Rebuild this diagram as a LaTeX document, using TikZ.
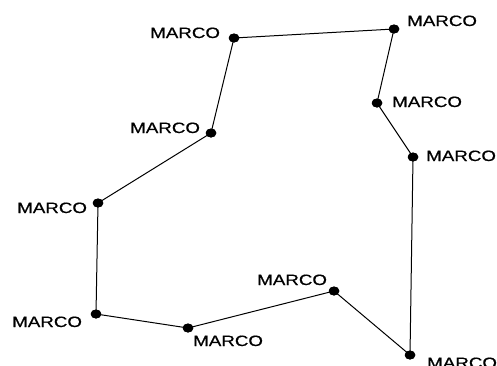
\documentclass[tikz,border=0pt]{standalone}
\usepackage{fontspec}
\newfontfamily\labfont[FakeStretch=1.25,FakeBold=0.6]{Liberation Sans}
\usetikzlibrary{shapes.geometric}
\tikzset{
  pt/.style={ellipse, fill=black, inner sep=0pt, minimum width=10.5pt, minimum height=9pt},
  lab/.style={anchor=base west, inner sep=0pt, font=\labfont\fontsize{15}{15}\selectfont},
  edge/.style={line width=1pt}
}
\begin{document}
\begin{tikzpicture}[x=1pt,y=-1pt]
\useasboundingbox (0,0) rectangle (497,365);
\node[pt] (p1) at (234,38) {};
\node[pt] (p2) at (394,29) {};
\node[pt] (p3) at (377,103) {};
\node[pt] (p4) at (413,157) {};
\node[pt] (p5) at (410,355) {};
\node[pt] (p6) at (334,291) {};
\node[pt] (p7) at (188,328) {};
\node[pt] (p8) at (96,314) {};
\node[pt] (p9) at (98,203) {};
\node[pt] (p10) at (211,133) {};
\draw[edge] (p1.center) -- (p2.center) -- (p3.center) -- (p4.center) -- (p5.center) -- (p6.center) -- (p7.center) -- (p8.center) -- (p9.center) -- (p10.center) -- (p1.center);
\foreach \i in {1,...,10} \node[pt] at (p\i) {};
\node[lab] (l1) at (150,38) {MARCO};
\node[lab] (l2) at (407,26) {MARCO};
\node[lab] (l3) at (392,107) {MARCO};
\node[lab] (l4) at (426,161) {MARCO};
\node[lab] (l5) at (427,368) {MARCO};
\node[lab] (l6) at (257,285) {MARCO};
\node[lab] (l7) at (193,346) {MARCO};
\node[lab] (l8) at (12,327) {MARCO};
\node[lab] (l9) at (17,213) {MARCO};
\node[lab] (l10) at (130,133) {MARCO};
\end{tikzpicture}
\end{document}
